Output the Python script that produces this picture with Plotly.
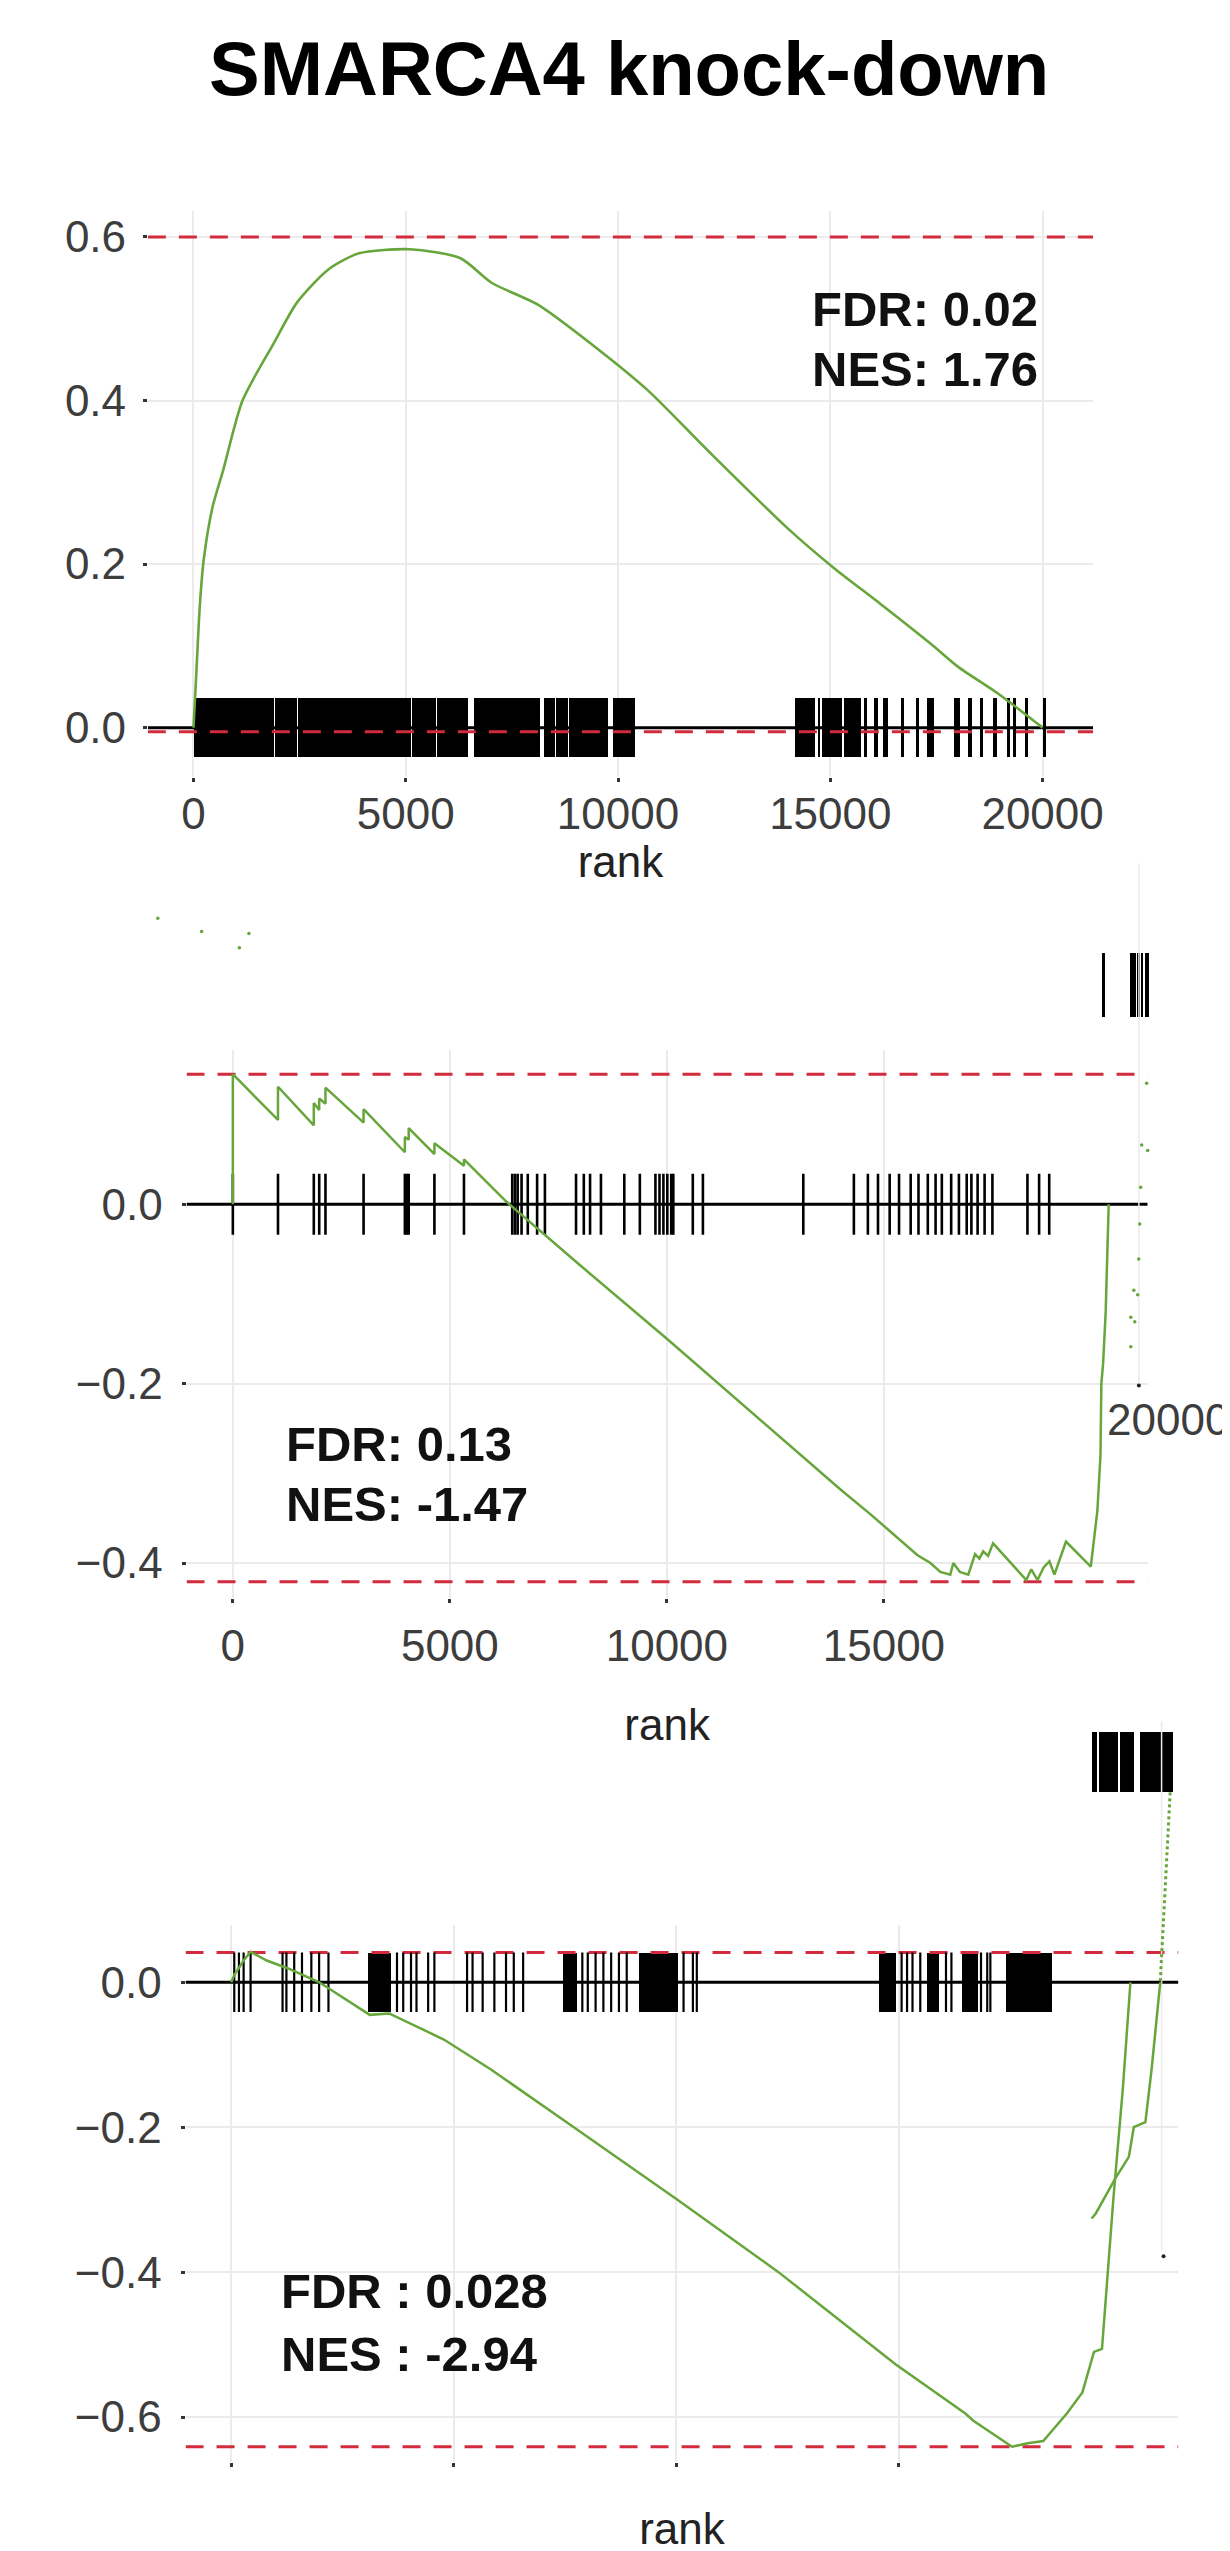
import plotly.graph_objects as go

# ---------------- data ----------------
title_text = "SMARCA4 knock-down"

# Panel 1 : running enrichment score
p1_rank = [0, 60, 150, 240, 450, 700, 1155, 1890, 2440, 3170, 3900, 5100, 6290, 7020,
           8120, 9400, 10690, 12150, 13990, 15090, 16190, 17380, 18020, 18940, 20000]
p1_es = [0.0, 0.06, 0.15, 0.205, 0.27, 0.315, 0.40, 0.47, 0.52, 0.56, 0.58, 0.585, 0.574, 0.544,
         0.517, 0.468, 0.413, 0.337, 0.244, 0.195, 0.151, 0.102, 0.074, 0.042, 0.0]
p1_rug_start = [0, 504, 1906, 2452, 4204, 4749, 5139, 5723,
                6610, 7085, 7358, 8248, 8527, 8838, 9111, 9344, 9883, 10045,
                14160, 14700, 14790, 15320, 15790, 16030, 16230, 16660, 17010, 17280,
                17900, 18250, 18530, 18830, 19150, 19300, 19580, 20010]
p1_rug_end = [492, 1894, 2440, 4192, 4737, 5127, 5711, 6455,
              7073, 7346, 8170, 8515, 8826, 9099, 9332, 9766, 10033, 10390,
              14630, 14750, 15260, 15720, 15860, 16110, 16350, 16730, 17080, 17430,
              18060, 18330, 18600, 18920, 19230, 19380, 19650, 20070]
p1_es_max, p1_es_min = 0.6, -0.005
p1_fdr, p1_nes = "FDR: 0.02", "NES: 1.76"

# Panel 2
p2_rank = [0, 0, 1040, 1040, 1865, 1865, 1990, 1990, 2134, 2134, 3012, 3012, 3963, 3963,
           4052, 4052, 4644, 4644, 5325, 5325, 6300, 8000, 10000, 12000, 14000, 14700, 15235,
           15768, 16072, 16300, 16529, 16600, 16750, 16944, 17100, 17200, 17287, 17400, 17516,
           18280, 18396, 18540, 18680, 18814, 18928, 19195, 19767, 19842, 19918, 19990, 20010,
           20050, 20080, 20110, 20150, 20180]
p2_es = [0.0, 0.145, 0.094, 0.131, 0.088, 0.113, 0.105, 0.118, 0.112, 0.13, 0.091, 0.106, 0.058, 0.075,
         0.072, 0.085, 0.056, 0.068, 0.043, 0.05, 0.003, -0.068, -0.150, -0.234, -0.318, -0.346, -0.368,
         -0.391, -0.40, -0.41, -0.413, -0.40, -0.41, -0.413, -0.39, -0.395, -0.387, -0.392, -0.378,
         -0.419, -0.407, -0.419, -0.405, -0.398, -0.413, -0.376, -0.404, -0.375, -0.342, -0.28, -0.2,
         -0.178, -0.15, -0.12, -0.05, 0.0]
p2_hits = [0, 1040, 1865, 1990, 2134, 3012, 3963, 4010, 4052, 4644, 5325, 6437, 6500, 6562, 6652,
           6795, 7010, 7190, 7907, 8086, 8230, 8481, 9019, 9377, 9736, 9830, 9920, 10010, 10100,
           10148, 10597, 10830, 13143, 14308, 14631, 14864, 15133, 15349, 15617, 15797, 16012,
           16191, 16335, 16550, 16729, 16908, 17016, 17159, 17320, 17500, 18307, 18576, 18809]
p2_es_max, p2_es_min = 0.145, -0.421
p2_fdr, p2_nes = "FDR: 0.13", "NES: -1.47"

# Panel 3
p3_rank = [0, 70, 175, 280, 437, 800, 1280, 1980, 3115, 3550, 4780, 5830, 7580, 10030, 12300,
           14930, 16500, 16680, 17550, 17900, 18250, 18780, 19130, 19390, 19570, 19830, 20040, 20210]
p3_es = [0.0, 0.01, 0.02, 0.03, 0.042, 0.03, 0.019, 0.0, -0.045, -0.043, -0.079, -0.12, -0.195,
         -0.30, -0.40, -0.527, -0.595, -0.605, -0.641, -0.636, -0.633, -0.595, -0.566, -0.51, -0.506,
         -0.296, -0.146, 0.0]
p3_hits = [70, 175, 280, 437, 1155, 1242, 1417, 1592, 1802, 1977, 2187, 3727, 3867, 4042, 4165,
           4427, 4567, 5302, 5425, 5652, 5915, 6177, 6352, 6562, 7892, 8015, 8190, 8365, 8540,
           8715, 8890, 10167, 10377, 10465, 15067, 15190, 15312, 15487, 16065, 16187, 16852,
           16992, 17062]
p3_block_start = [3062, 7437, 9152, 14542, 15627, 16415, 17412]
p3_block_end = [3587, 7752, 10027, 14927, 15890, 16765, 18427]
p3_es_max, p3_es_min = 0.041, -0.641
p3_fdr, p3_nes = "FDR : 0.028", "NES : -2.94"

# stray overlay fragments (panel-2 units)
s2_rug_start = [20030, 20680, 20850, 20930, 21020]
s2_rug_end = [20090, 20810, 20890, 20970, 21100]
s2_rug_top, s2_rug_bottom = 0.28, 0.209
s2_dot_rank = [-1730, -720, 150, 370, 21054, 20940, 21077, 20917, 20894, 20871, 20757, 20848,
               20688, 20780, 20688]
s2_dot_es = [0.319, 0.304, 0.286, 0.302, 0.135, 0.066, 0.060, 0.019, -0.022, -0.061, -0.096,
             -0.101, -0.126, -0.131, -0.159]
s2_grid_rank, s2_grid_es = [20875, 20875], [0.38, -0.2]
s2_tick_rank, s2_tick_es = [20875], [-0.202]
s2_label, s2_label_rank, s2_label_es = "20000", 20100, -0.24

# stray overlay fragments (panel-3 units)
s3_block_start = [19349, 19505, 19973, 20419]
s3_block_end = [19461, 19929, 20285, 21177]
s3_block_top, s3_block_bottom = 0.345, 0.262
s3_dotted_rank = [21103, 20880]
s3_dotted_es = [0.262, 0.0]
s3_curve_rank = [20880, 20686, 20546, 20285, 20174, 19877, 19431, 19338]
s3_curve_es = [0.0, -0.12, -0.193, -0.2, -0.241, -0.27, -0.319, -0.326]
s3_grid_rank, s3_grid_es = [20910, 20910], [0.36, -0.37]
s3_dot_rank, s3_dot_es = [20954], [-0.378]

# ---------------- layout constants ----------------
W, H = 1230, 2551
GREEN = "#66a63a"
RED = "#d22b3d"
GRID = "#ebebeb"
FONT = "Liberation Sans, Arial, sans-serif"
TICKFONT = dict(family=FONT, size=44, color="#3d3d3d")


def dom_x(a, b):
    return [a / W, b / W]


def dom_y(top, bottom):
    return [1 - bottom / H, 1 - top / H]


def full_range(r, d):
    span = (r[1] - r[0]) / (d[1] - d[0])
    return [r[0] - d[0] * span, r[1] + (1 - d[1]) * span]


P = {
    1: dict(xd=dom_x(141, 1094), yd=dom_y(202.8, 768.7), xr=[-1075, 21190], yr=[-0.06, 0.632]),
    2: dict(xd=dom_x(180, 1149), yd=dom_y(1042, 1590), xr=[-1067, 21077], yr=[-0.439, 0.172]),
    3: dict(xd=dom_x(179, 1180), yd=dom_y(1917, 2454), xr=[-1025, 21288], yr=[-0.662, 0.079]),
}

fig = go.Figure()


def rug_bars(starts, ends, lo, hi, xa, ya):
    fig.add_trace(go.Bar(
        x=[(s + e) / 2 for s, e in zip(starts, ends)],
        y=[hi - lo] * len(starts), base=[lo] * len(starts),
        width=[e - s for s, e in zip(starts, ends)],
        marker=dict(color="black", line=dict(width=0)),
        xaxis=xa, yaxis=ya, showlegend=False, hoverinfo="skip"))


def rug_lines(hits, h, xa, ya, width):
    xs, ys = [], []
    for p in hits:
        xs += [p, p, None]
        ys += [-h, h, None]
    fig.add_trace(go.Scatter(x=xs, y=ys, mode="lines", line=dict(color="black", width=width),
                             xaxis=xa, yaxis=ya, showlegend=False, hoverinfo="skip"))


def hline(v, xa, ya, color, width, dash=None):
    # horizontal reference line spanning the panel's full x range
    xr = fig.layout[xa.replace("x", "xaxis")].range
    fig.add_trace(go.Scatter(x=[xr[0], xr[1]], y=[v, v], mode="lines",
                             line=dict(color=color, width=width, dash=dash),
                             xaxis=xa, yaxis=ya, showlegend=False, hoverinfo="skip"))


def curve(xs, ys, xa, ya, shape="linear"):
    fig.add_trace(go.Scatter(x=xs, y=ys, mode="lines",
                             line=dict(color=GREEN, width=2.6, shape=shape, smoothing=0.7)
                             if shape == "spline" else dict(color=GREEN, width=2.5),
                             xaxis=xa, yaxis=ya, showlegend=False))


axis_common = dict(showgrid=True, gridcolor=GRID, gridwidth=1.5, zeroline=False, showline=False,
                   ticks="outside", ticklen=4, tickwidth=2.5, tickcolor="#333", tickfont=TICKFONT)


def yticktext(vals):
    return [f"{v:.1f}".replace("-", "\u2212") for v in vals]


p1_yt = [0.0, 0.2, 0.4, 0.6]
p2_yt = [-0.4, -0.2, 0.0]
p3_yt = [-0.6, -0.4, -0.2, 0.0]
xt_full = [0, 5000, 10000, 15000, 20000]
xt_short = [0, 5000, 10000, 15000]

title_font = dict(family=FONT, size=44, color="#222")

layout = dict(
    width=W, height=H, margin=dict(l=0, r=0, t=0, b=0),
    paper_bgcolor="white", plot_bgcolor="rgba(0,0,0,0)", showlegend=False, bargap=0,
    title=dict(text=f"<b>{title_text}</b>", x=0.505, xanchor="center", y=1 - 60 / H, yanchor="middle",
               font=dict(family=FONT, size=76, color="black")),
    xaxis=dict(domain=P[1]["xd"], range=P[1]["xr"], anchor="y", tickvals=xt_full,
               ticktext=[str(v) for v in xt_full], ticklabelstandoff=-6,
               title=dict(text="rank", font=title_font, standoff=2), **axis_common),
    yaxis=dict(domain=P[1]["yd"], range=P[1]["yr"], anchor="x", tickvals=p1_yt,
               ticktext=yticktext(p1_yt), ticklabelstandoff=8, **axis_common),
    xaxis2=dict(domain=P[2]["xd"], range=P[2]["xr"], anchor="y2", tickvals=xt_short,
                ticktext=[str(v) for v in xt_short], ticklabelstandoff=5,
                title=dict(text="rank", font=title_font, standoff=40), **axis_common),
    yaxis2=dict(domain=P[2]["yd"], range=P[2]["yr"], anchor="x2", tickvals=p2_yt,
                ticktext=yticktext(p2_yt), ticklabelstandoff=10, **axis_common),
    xaxis3=dict(domain=P[3]["xd"], range=P[3]["xr"], anchor="y3", tickvals=xt_short,
                showticklabels=False,
                title=dict(text="rank", font=title_font, standoff=47), **axis_common),
    yaxis3=dict(domain=P[3]["yd"], range=P[3]["yr"], anchor="x3", tickvals=p3_yt,
                ticktext=yticktext(p3_yt), ticklabelstandoff=10, **axis_common),
    xaxis4=dict(domain=[0, 1], range=full_range(P[2]["xr"], P[2]["xd"]), anchor="y4", visible=False),
    yaxis4=dict(domain=[0, 1], range=full_range(P[2]["yr"], P[2]["yd"]), anchor="x4", visible=False),
    xaxis5=dict(domain=[0, 1], range=full_range(P[3]["xr"], P[3]["xd"]), anchor="y5", visible=False),
    yaxis5=dict(domain=[0, 1], range=full_range(P[3]["yr"], P[3]["yd"]), anchor="x5", visible=False),
)
fig.update_layout(**layout)

# reference lines (drawn first so they sit under the marks)
for xa, ya, mx, mn in [("x", "y", p1_es_max, p1_es_min), ("x2", "y2", p2_es_max, p2_es_min),
                       ("x3", "y3", p3_es_max, p3_es_min)]:
    hline(mx, xa, ya, RED, 3, "18px,13px")
    hline(mn, xa, ya, RED, 3, "18px,13px")
    hline(0.0, xa, ya, "black", 3)

# panel 1
rug_bars(p1_rug_start, p1_rug_end, -0.036, 0.036, "x", "y")
curve(p1_rank, p1_es, "x", "y", shape="spline")
# panel 2
rug_lines(p2_hits, 0.034, "x2", "y2", 2.6)
curve(p2_rank, p2_es, "x2", "y2")
# panel 3
rug_lines(p3_hits, 0.041, "x3", "y3", 2.2)
rug_bars(p3_block_start, p3_block_end, -0.041, 0.041, "x3", "y3")
curve(p3_rank, p3_es, "x3", "y3")

# stray fragments (panel 2 scale)
fig.add_trace(go.Scatter(x=s2_grid_rank, y=s2_grid_es, mode="lines", line=dict(color=GRID, width=1.5),
                         xaxis="x4", yaxis="y4", showlegend=False, hoverinfo="skip"))
rug_bars(s2_rug_start, s2_rug_end, s2_rug_bottom, s2_rug_top, "x4", "y4")
fig.add_trace(go.Scatter(x=s2_dot_rank, y=s2_dot_es, mode="markers",
                         marker=dict(color=GREEN, size=3.5), xaxis="x4", yaxis="y4",
                         showlegend=False, hoverinfo="skip"))
fig.add_trace(go.Scatter(x=s2_tick_rank, y=s2_tick_es, mode="markers",
                         marker=dict(color="#222", size=4), xaxis="x4", yaxis="y4",
                         showlegend=False, hoverinfo="skip"))
# stray fragments (panel 3 scale)
fig.add_trace(go.Scatter(x=s3_grid_rank, y=s3_grid_es, mode="lines", line=dict(color=GRID, width=1.5),
                         xaxis="x5", yaxis="y5", showlegend=False, hoverinfo="skip"))
rug_bars(s3_block_start, s3_block_end, s3_block_bottom, s3_block_top, "x5", "y5")
fig.add_trace(go.Scatter(x=s3_dotted_rank, y=s3_dotted_es, mode="lines",
                         line=dict(color=GREEN, width=3, dash="dot"), xaxis="x5", yaxis="y5",
                         showlegend=False, hoverinfo="skip"))
fig.add_trace(go.Scatter(x=s3_curve_rank, y=s3_curve_es, mode="lines",
                         line=dict(color=GREEN, width=2.5), xaxis="x5", yaxis="y5",
                         showlegend=False, hoverinfo="skip"))
fig.add_trace(go.Scatter(x=s3_dot_rank, y=s3_dot_es, mode="markers",
                         marker=dict(color="#222", size=4), xaxis="x5", yaxis="y5",
                         showlegend=False, hoverinfo="skip"))

ann_font = dict(family=FONT, size=49, color="#111")
for (xr, yr, label, ax, ay) in [
    ("x", "y", p1_fdr, 14533, 0.512), ("x", "y", p1_nes, 14533, 0.4385),
    ("x2", "y2", p2_fdr, 1172, -0.267), ("x2", "y2", p2_nes, 1172, -0.334),
    ("x3", "y3", p3_fdr, 1070, -0.426), ("x3", "y3", p3_nes, 1070, -0.513),
]:
    fig.add_annotation(x=ax, y=ay, xref=xr, yref=yr, text=f"<b>{label}</b>",
                       showarrow=False, xanchor="left", yanchor="middle", align="left",
                       font=ann_font)

fig.add_annotation(x=s2_label_rank, y=s2_label_es, xref="x4", yref="y4", text=s2_label,
                   showarrow=False, xanchor="left", yanchor="middle", font=TICKFONT)

fig.write_html("out.html")
